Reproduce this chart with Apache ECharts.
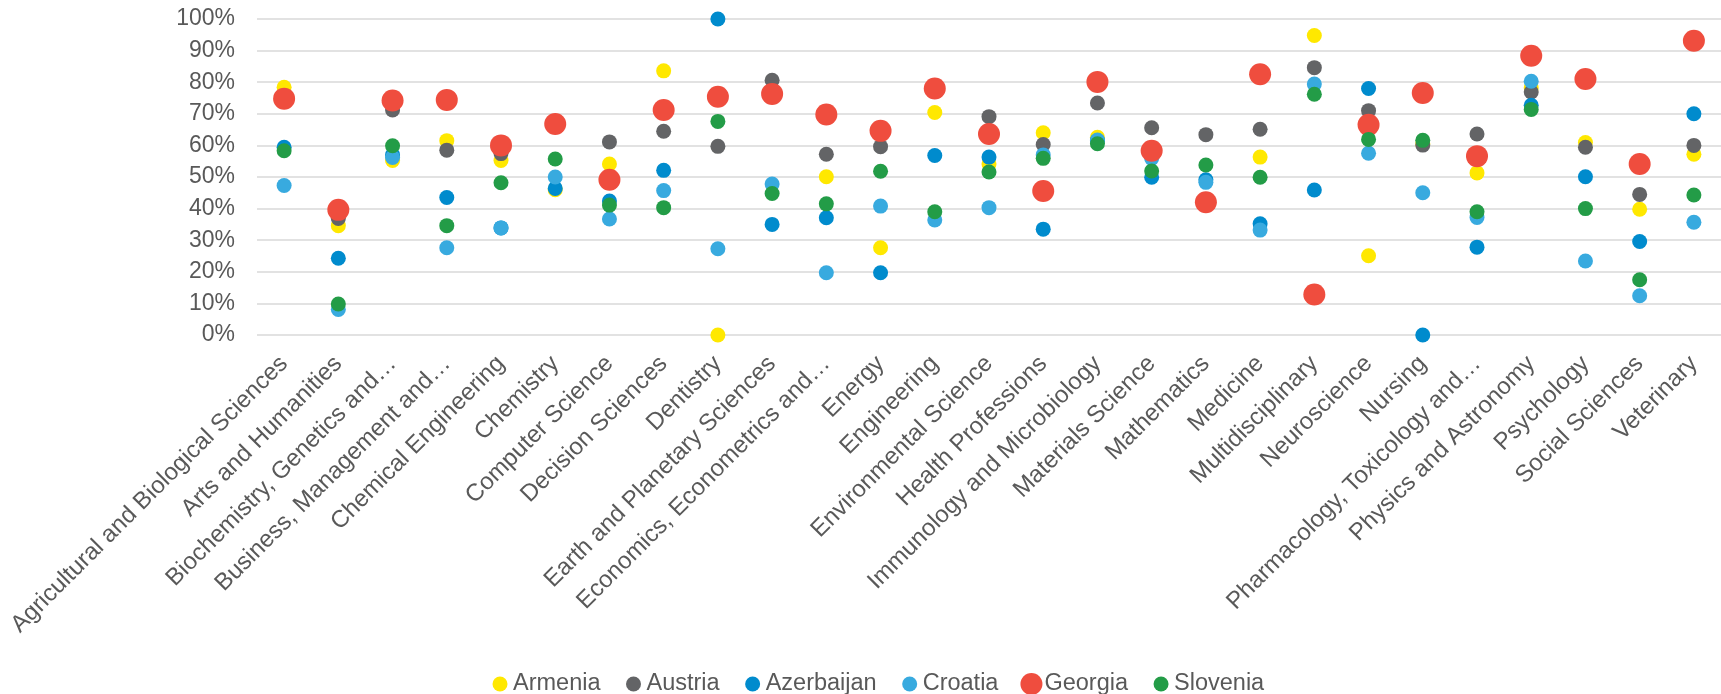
<!DOCTYPE html>
<html>
<head>
<meta charset="utf-8">
<title>Share by subject area</title>
<script src="https://cdn.jsdelivr.net/npm/echarts@6/dist/echarts.min.js"></script>
<style>
  html, body { margin: 0; padding: 0; background: #ffffff; }
  #chart { width: 1721px; height: 694px; }
</style>
</head>
<body>
<div id="chart"></div>
<script>
// Subject areas along the category axis
const categories = [
  'Agricultural and Biological Sciences',
  'Arts and Humanities',
  'Biochemistry, Genetics and\u2026',
  'Business, Management and\u2026',
  'Chemical Engineering',
  'Chemistry',
  'Computer Science',
  'Decision Sciences',
  'Dentistry',
  'Earth and Planetary Sciences',
  'Economics, Econometrics and\u2026',
  'Energy',
  'Engineering',
  'Environmental Science',
  'Health Professions',
  'Immunology and Microbiology',
  'Materials Science',
  'Mathematics',
  'Medicine',
  'Multidisciplinary',
  'Neuroscience',
  'Nursing',
  'Pharmacology, Toxicology and\u2026',
  'Physics and Astronomy',
  'Psychology',
  'Social Sciences',
  'Veterinary'
];

// Percentages per country, one value per subject area
const armenia    = [78.4, 34.6, 55.2, 61.5, 55.2, 46.0, 54.1, 83.6, 0.0, 76.3, 50.1, 27.6, 70.4, 54.1, 64.0, 62.6, 58.0, 42.0, 56.3, 94.8, 25.1, 60.5, 51.3, 78.2, 60.9, 39.8, 57.2];
const austria    = [75.0, 36.9, 71.2, 58.5, 57.4, 66.8, 61.1, 64.5, 59.7, 80.6, 57.2, 59.6, 78.0, 69.1, 60.3, 73.4, 65.6, 63.4, 65.1, 84.6, 71.0, 60.1, 63.6, 76.9, 59.4, 44.5, 60.0];
const azerbaijan = [59.4, 24.3, 57.0, 43.5, 33.9, 46.4, 42.4, 52.1, 100.0, 35.0, 37.1, 19.7, 56.8, 56.3, 33.5, 61.5, 49.9, 49.1, 35.2, 45.9, 78.0, 0.0, 27.8, 72.7, 50.1, 29.6, 70.0];
const croatia    = [47.3, 8.1, 56.2, 27.6, 33.9, 50.0, 36.7, 45.7, 27.3, 47.8, 19.7, 40.8, 36.4, 40.3, 57.0, 61.7, 55.9, 48.3, 33.2, 79.4, 57.5, 45.0, 37.2, 80.3, 23.4, 12.4, 35.7];
const georgia    = [74.8, 39.6, 74.2, 74.4, 60.0, 66.8, 49.1, 71.2, 75.4, 76.3, 69.8, 64.6, 78.0, 63.6, 45.6, 80.1, 58.3, 42.0, 82.5, 12.8, 66.5, 76.6, 56.6, 88.4, 81.0, 54.1, 93.1];
const slovenia   = [58.3, 9.8, 59.9, 34.6, 48.2, 55.7, 41.1, 40.3, 67.6, 44.8, 41.5, 51.8, 39.0, 51.6, 55.9, 60.5, 51.9, 53.8, 49.9, 76.2, 61.9, 61.6, 39.0, 71.4, 40.0, 17.5, 44.3];

// Y axis tick range (percent)
const yTicks = { min: 0, max: 100, step: 10 };

const FONT = "'Liberation Sans', Arial, sans-serif";
const TEXT = '#595959';

// Legend markers share one 22px box; the small ones keep a 15px dot inside it
const SMALL_DOT = 'path://M0 0M22 22M3.5 11A7.5 7.5 0 1 1 18.5 11A7.5 7.5 0 1 1 3.5 11Z';

function dots(name, data, color, size) {
  return {
    name: name,
    type: 'scatter',
    data: data,
    symbol: 'circle',
    symbolSize: size,
    itemStyle: { color: color, opacity: 1 },
    emphasis: { disabled: true }
  };
}

const chart = echarts.init(document.getElementById('chart'), null, { renderer: 'canvas' });

chart.setOption({
  animation: false,
  backgroundColor: '#ffffff',
  textStyle: { fontFamily: FONT },
  grid: { left: 257, right: 0, top: 19, bottom: 359, containLabel: false },
  legend: {
    top: 667,
    left: 484,
    itemWidth: 22,
    itemHeight: 22,
    itemGap: 22,
    textStyle: { color: TEXT, fontSize: 23.5, fontFamily: FONT, padding: [0, 0, 0, -3] },
    data: [
      { name: 'Armenia', icon: SMALL_DOT },
      { name: 'Austria', icon: SMALL_DOT },
      { name: 'Azerbaijan', icon: SMALL_DOT },
      { name: 'Croatia', icon: SMALL_DOT },
      { name: 'Georgia', icon: 'circle' },
      { name: 'Slovenia', icon: SMALL_DOT }
    ]
  },
  xAxis: {
    type: 'category',
    data: categories,
    boundaryGap: true,
    axisLine: { show: false },
    axisTick: { show: false },
    splitLine: { show: false },
    axisLabel: {
      interval: 0,
      rotate: 45,
      margin: 25,
      verticalAlign: 'middle',
      padding: [11, 0, 0, 0],
      color: TEXT,
      fontSize: 24,
      fontFamily: FONT
    }
  },
  yAxis: {
    type: 'value',
    min: yTicks.min,
    max: yTicks.max,
    interval: yTicks.step,
    axisLine: { show: false },
    axisTick: { show: false },
    axisLabel: {
      formatter: '{value}%',
      color: TEXT,
      fontSize: 23,
      fontFamily: FONT,
      margin: 22
    },
    splitLine: { show: true, lineStyle: { color: '#d9d9d9', width: 1.5 } }
  },
  series: [
    dots('Armenia', armenia, '#ffe800', 15),
    dots('Austria', austria, '#636466', 15),
    dots('Azerbaijan', azerbaijan, '#008bcd', 15),
    dots('Croatia', croatia, '#38aadf', 15),
    dots('Georgia', georgia, '#ef4d3e', 22),
    dots('Slovenia', slovenia, '#239c47', 15)
  ]
});
</script>
</body>
</html>
